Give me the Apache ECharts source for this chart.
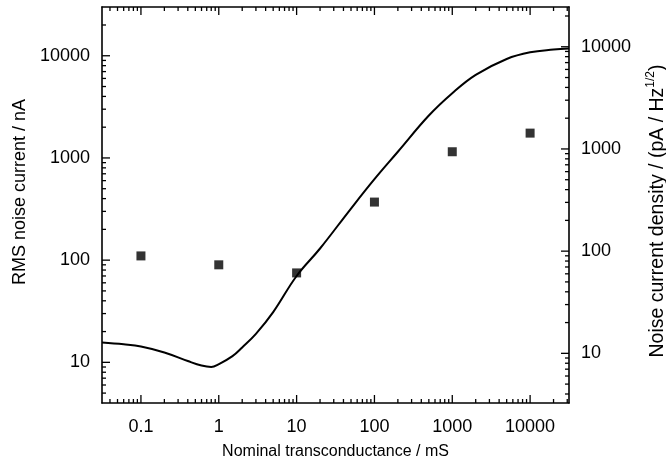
<!DOCTYPE html>
<html>
<head>
<meta charset="utf-8">
<script src="https://cdn.jsdelivr.net/npm/echarts@6/dist/echarts.min.js"></script>
<style>
    html, body { margin: 0; padding: 0; background: #fff; }
    #chart { width: 666px; height: 472px; }
</style>
</head>
<body>
<div id="chart"></div>
<script>
    // model curve (RMS noise current vs transconductance)
    const curveX = [0.0316, 0.06, 0.1, 0.2, 0.4, 0.6, 0.8, 1, 1.5, 2, 3, 5, 10, 20, 50, 100, 200, 500, 1000, 2000, 5000, 10000, 20000, 31600];
    const curveY = [15.6, 15, 14.3, 12.5, 10.3, 9.3, 9.0, 9.6, 11.5, 14, 19, 31, 70, 130, 320, 620, 1150, 2600, 4300, 6500, 9300, 10800, 11500, 11800];
    // measured points
    const measX = [0.1, 1, 10, 100, 1000, 10000];
    const measY = [110, 90, 75, 370, 1150, 1750];
    // tick labels
    const xTicks = [0.1, 1, 10, 100, 1000, 10000];
    const yTicks = [10, 100, 1000, 10000];
    const rightTicks = [10, 100, 1000, 10000];

    const xMin = 0.0316, xMax = 31600;
    const yMin = 4, yMax = 30000;
    const rMin = 3.266, rMax = 24495;

    const FONT = 'Liberation Sans';

    function minorTicks(lo, hi) {
        const out = [];
        for (let e = Math.floor(Math.log10(lo)); e <= Math.ceil(Math.log10(hi)); e++) {
            for (let m = 2; m <= 9; m++) {
                const v = m * Math.pow(10, e);
                if (v > lo && v < hi) out.push(v);
            }
        }
        return out;
    }
    function majorTicks(lo, hi) {
        const out = [];
        for (let e = Math.floor(Math.log10(lo)); e <= Math.ceil(Math.log10(hi)); e++) {
            const v = Math.pow(10, e);
            if (v > lo && v < hi) out.push(v);
        }
        return out;
    }
    // [value, tick length]
    const tickList = (lo, hi) => majorTicks(lo, hi).map(v => [v, 8]).concat(minorTicks(lo, hi).map(v => [v, 4]));
    const fmt = v => String(+(+v).toPrecision(6));

    function axis(pos, min, max, opt) {
        return {
            type: 'log',
            position: pos,
            min: min,
            max: max,
            axisLine: { show: true, onZero: false, lineStyle: { color: '#000', width: 1.6 } },
            axisTick: { show: false },
            axisLabel: opt.labels ? {
                show: true,
                customValues: opt.labels,
                formatter: fmt,
                fontFamily: FONT,
                fontSize: 18,
                color: '#000',
                margin: opt.margin
            } : { show: false },
            splitLine: { show: false },
            name: opt.name || '',
            nameLocation: 'middle',
            nameGap: opt.nameGap || 0,
            nameTextStyle: Object.assign({ fontFamily: FONT, fontSize: 16, color: '#000' }, opt.nameStyle || {})
        };
    }

    const TW = 1.3;
    function rect(x, y, w, h) {
        return { type: 'rect', shape: { x: x, y: y, width: w, height: h }, style: { fill: '#000' } };
    }
    // inside ticks drawn through the axes' own scales
    function xTickItem(params, api) {
        const cs = params.coordSys;
        const px = api.coord([api.value(0), api.value(1)])[0];
        const len = api.value(2);
        return {
            type: 'group',
            children: [
                rect(px - TW / 2, cs.y + cs.height - len, TW, len),
                rect(px - TW / 2, cs.y, TW, len)
            ]
        };
    }
    function leftTickItem(params, api) {
        const cs = params.coordSys;
        const py = api.coord([api.value(0), api.value(1)])[1];
        return rect(cs.x, py - TW / 2, api.value(2), TW);
    }
    function rightTickItem(params, api) {
        const cs = params.coordSys;
        const py = api.coord([api.value(0), api.value(1)])[1];
        const len = api.value(2);
        return rect(cs.x + cs.width - len, py - TW / 2, len, TW);
    }

    const option = {
        animation: false,
        grid: { left: 102, right: 97, top: 7, bottom: 69, outerBoundsMode: 'none' },
        xAxis: [
            axis('bottom', xMin, xMax, { labels: xTicks, margin: 15, name: 'Nominal transconductance / mS', nameGap: 41 }),
            axis('top', xMin, xMax, {})
        ],
        yAxis: [
            axis('left', yMin, yMax, {
                labels: yTicks, margin: 12, name: 'RMS noise current / nA', nameGap: 70,
                nameStyle: { fontSize: 18, padding: [0, 0, 0, 26] }
            }),
            axis('right', rMin, rMax, {
                labels: rightTicks, margin: 12,
                name: 'Noise current density / (pA / Hz{sup|1/2})', nameGap: 76,
                nameStyle: { fontSize: 19.5, padding: [0, 12, 0, 0], rich: { sup: { fontFamily: FONT, fontSize: 12, color: '#000', verticalAlign: 'top', lineHeight: 26 } } }
            })
        ],
        series: [
            {
                name: 'model',
                type: 'line',
                xAxisIndex: 0,
                yAxisIndex: 0,
                data: curveX.map((x, i) => [x, curveY[i]]),
                smooth: 0.4,
                showSymbol: false,
                lineStyle: { color: '#000', width: 2 }
            },
            {
                name: 'measured',
                type: 'scatter',
                xAxisIndex: 0,
                yAxisIndex: 0,
                data: measX.map((x, i) => [x, measY[i]]),
                symbol: 'rect',
                symbolSize: 9,
                itemStyle: { color: '#000' }
            },
            {
                type: 'custom', xAxisIndex: 0, yAxisIndex: 0, clip: false,
                renderItem: xTickItem,
                encode: { x: 0, y: 1 },
                data: tickList(xMin, xMax).map(t => [t[0], 100, t[1]])
            },
            {
                type: 'custom', xAxisIndex: 0, yAxisIndex: 0, clip: false,
                renderItem: leftTickItem,
                encode: { x: 0, y: 1 },
                data: tickList(yMin, yMax).map(t => [1, t[0], t[1]])
            },
            {
                type: 'custom', xAxisIndex: 0, yAxisIndex: 1, clip: false,
                renderItem: rightTickItem,
                encode: { x: 0, y: 1 },
                data: tickList(rMin, rMax).map(t => [1, t[0], t[1]])
            }
        ]
    };

    const chart = echarts.init(document.getElementById('chart'));
    chart.setOption(option);
</script>
</body>
</html>
